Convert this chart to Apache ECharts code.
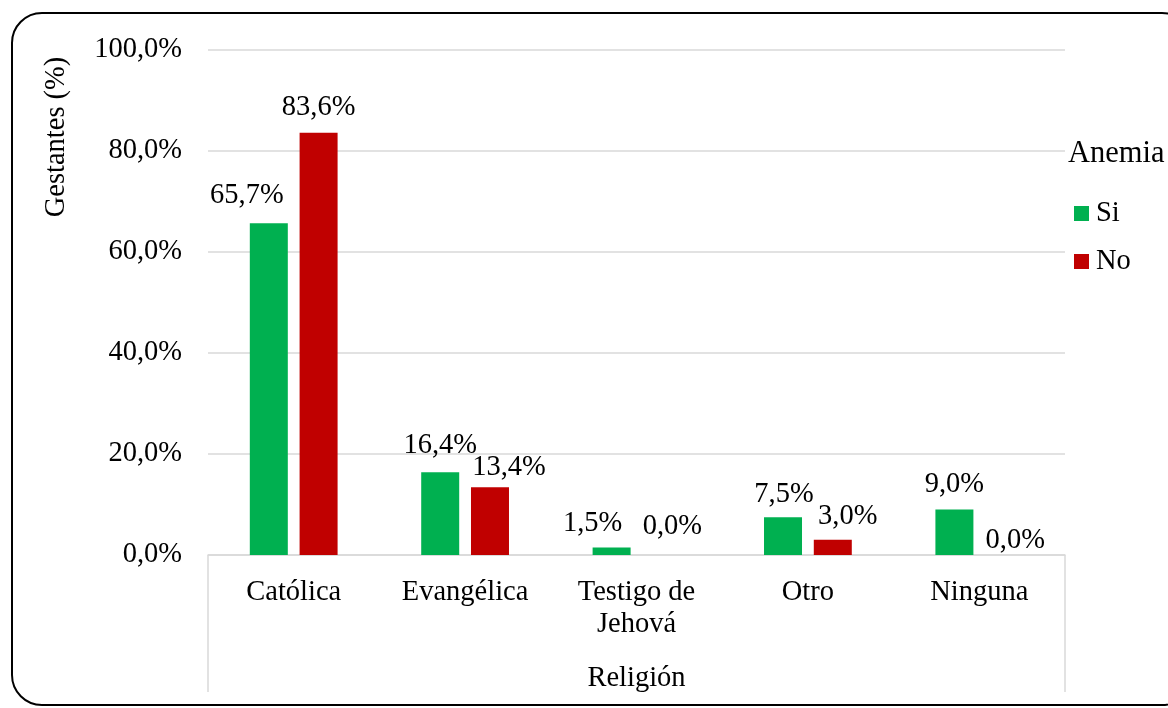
<!DOCTYPE html>
<html>
<head>
<meta charset="utf-8">
<style>
  html, body { margin: 0; padding: 0; background: #fff; }
  #chart { width: 1168px; height: 708px; }
</style>
<script src="https://cdn.jsdelivr.net/npm/echarts@6/dist/echarts.min.js"></script>
</head>
<body>
<div id="chart"></div>
<script>
// ---- data ----
const categories = ['Católica', 'Evangélica', 'Testigo de\nJehová', 'Otro', 'Ninguna'];
const seriesNames = ['Si', 'No'];
const siValues = [65.7, 16.4, 1.5, 7.5, 9.0];
const noValues = [83.6, 13.4, 0.0, 3.0, 0.0];
const yTicks = [0, 20, 40, 60, 80, 100];

// ---- label nudges (style only, in px) ----
const siLabelNudge = [[-22, -2], [0, -1], [-19, 2], [1, 3], [0, 0]];
const noLabelNudge = [[0, 0], [19, 6], [11, -3], [15, 2], [11, 11]];

const FONT = '"Liberation Serif", "Times New Roman", serif';
const FS = 28.5;
const fmt = v => v.toFixed(1).replace('.', ',') + '%';

function buildData(values, nudges) {
  return values.map((v, i) => ({
    value: v,
    label: { offset: nudges[i] }
  }));
}

const chart = echarts.init(document.getElementById('chart'), null, { renderer: 'canvas' });

const option = {
  animation: false,
  backgroundColor: '#ffffff',
  textStyle: { fontFamily: FONT, color: '#000' },
  grid: { left: 208, right: 103, top: 50, bottom: 153, containLabel: false },
  legend: {
    orient: 'vertical',
    left: 1069,
    top: 194,
    itemWidth: 15,
    itemHeight: 15,
    itemGap: 19,
    icon: 'rect',
    data: seriesNames,
    textStyle: { fontFamily: FONT, fontSize: FS, color: '#000', padding: [0, 0, 0, 2] }
  },
  xAxis: {
    type: 'category',
    data: categories,
    name: 'Religión',
    nameLocation: 'middle',
    nameGap: 109,
    nameTextStyle: { fontFamily: FONT, fontSize: FS, color: '#000' },
    axisLine: { show: true, lineStyle: { color: '#D9D9D9', width: 1.5 } },
    axisTick: { show: true, length: 137, interval: (i) => i === 0, lineStyle: { color: '#D9D9D9', width: 1.5 } },
    axisLabel: { interval: 0, margin: 22, fontFamily: FONT, fontSize: FS, lineHeight: 32, color: '#000' }
  },
  yAxis: {
    type: 'value',
    min: 0,
    max: 100,
    interval: 20,
    axisLine: { show: false },
    axisTick: { show: false },
    splitLine: { show: true, lineStyle: { color: '#D9D9D9', width: 1.5 } },
    axisLabel: {
      margin: 26,
      fontFamily: FONT,
      fontSize: FS,
      color: '#000',
      formatter: v => yTicks.includes(v) ? fmt(v) : ''
    }
  },
  series: [
    {
      name: seriesNames[0],
      type: 'bar',
      data: buildData(siValues, siLabelNudge),
      barWidth: 38,
      barGap: '31%',
      itemStyle: { color: '#00B050' },
      label: {
        show: true, position: 'top', distance: 11,
        fontFamily: FONT, fontSize: FS, color: '#000',
        formatter: p => fmt(p.value)
      }
    },
    {
      name: seriesNames[1],
      type: 'bar',
      data: buildData(noValues, noLabelNudge),
      barWidth: 38,
      itemStyle: { color: '#C00000' },
      label: {
        show: true, position: 'top', distance: 11,
        fontFamily: FONT, fontSize: FS, color: '#000',
        formatter: p => fmt(p.value)
      }
    }
  ],
  graphic: [
    {
      type: 'rect',
      shape: { x: 12, y: 13, width: 1180, height: 692, r: 30 },
      style: { fill: 'none', stroke: '#000', lineWidth: 2 },
      silent: true,
      z: 100
    },
    {
      type: 'text',
      x: 57, y: 137,
      rotation: Math.PI / 2,
      style: { text: 'Gestantes (%)', font: FS + 'px ' + FONT, fill: '#000', align: 'center', verticalAlign: 'middle' }
    },
    {
      type: 'text',
      x: 1068, y: 154,
      style: { text: 'Anemia', font: '30.5px ' + FONT, fill: '#000', align: 'left', verticalAlign: 'middle' }
    }
  ]
};

chart.setOption(option);
</script>
</body>
</html>
